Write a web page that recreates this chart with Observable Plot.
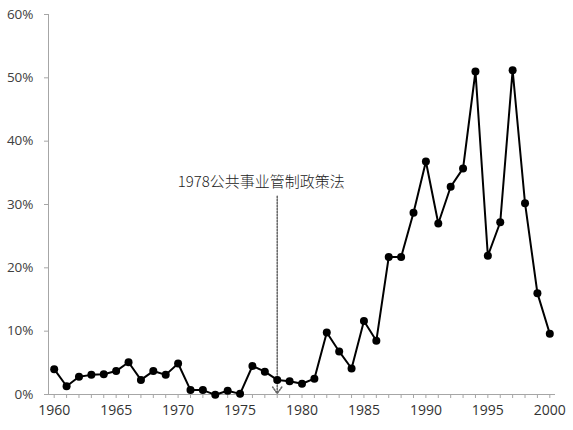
<!DOCTYPE html>
<html>
<head>
<meta charset="utf-8">
<script src="https://cdn.jsdelivr.net/npm/d3@7"></script>
<script src="https://cdn.jsdelivr.net/npm/@observablehq/plot@0.6"></script>
<style>
  html, body { margin: 0; padding: 0; background: #fff; }
  #chart svg { display: block; }
</style>
</head>
<body>
<div id="chart"></div>
<script>
const years = d3.range(1960, 2001);
const rates = [4.0, 1.3, 2.8, 3.1, 3.2, 3.7, 5.1, 2.3, 3.7, 3.1,
               4.9, 0.7, 0.7, -0.05, 0.6, 0.1, 4.5, 3.6, 2.3, 2.1,
               1.7, 2.5, 9.8, 6.8, 4.1, 11.6, 8.5, 21.7, 21.7, 28.7,
               36.8, 27.0, 32.8, 35.7, 51.0, 21.9, 27.2, 51.2, 30.2, 16.0,
               9.6];
const xLabelYears = [1960, 1965, 1970, 1975, 1980, 1985, 1990, 1995, 2000];
const yTicks = [0, 10, 20, 30, 40, 50, 60];
const annotationYear = 1978;
const annotationText = "1978公共事业管制政策法";

const data = years.map((y, i) => ({year: y, rate: rates[i]}));

const chart = Plot.plot({
  width: 573,
  height: 430,
  marginLeft: 48,
  marginRight: 18,
  marginTop: 14,
  marginBottom: 36,
  style: {fontFamily: "'Open Sans', 'Noto Sans', sans-serif", fontSize: "13px", color: "#404040", background: "#fff"},
  x: {domain: [1960, 2000], insetLeft: 5.7, insetRight: 5.7},
  y: {domain: [0, 60]},
  marks: [
    Plot.ruleY([0], {stroke: "#a6a6a6", strokeWidth: 1}),
    Plot.frame({anchor: "left", stroke: "#a6a6a6"}),
    Plot.axisY({ticks: yTicks, tickSize: 4, tickPadding: 11, stroke: "#a6a6a6", tickFormat: d => d + "%", label: null, fill: "#404040", fontSize: 13.5}),
    Plot.axisX({ticks: years, tickSize: 4, tickFormat: () => "", label: null, stroke: "#a6a6a6"}),
    Plot.axisX({ticks: xLabelYears, tickSize: 0, tickPadding: 11, tickFormat: d => String(d), label: null, fill: "#333", fontSize: 14}),
    Plot.arrow([{x: annotationYear}], {x1: "x", x2: "x", y1: () => 31.3, y2: () => 0.15, stroke: "#666", strokeWidth: 1.5, strokeDasharray: "1.5,1.5", headLength: 8, headAngle: 70}),
    Plot.text([annotationText], {x: () => annotationYear, y: () => 33.5, text: d => d, dx: -16, fontSize: 15, fill: "#222", fontFamily: "'Noto Sans CJK SC', sans-serif", fontWeight: 300}),
    Plot.line(data, {x: "year", y: "rate", stroke: "#000", strokeWidth: 2}),
    Plot.dot(data, {x: "year", y: "rate", r: 4, fill: "#000", stroke: "none"})
  ]
});
document.getElementById("chart").appendChild(chart);
</script>
</body>
</html>
